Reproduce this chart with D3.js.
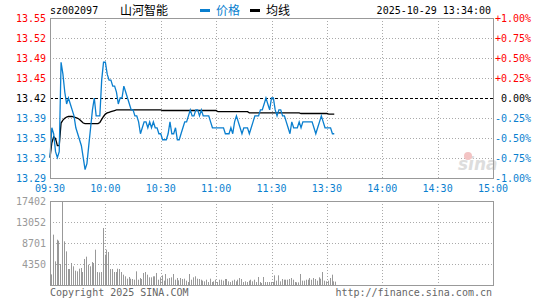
<!DOCTYPE html>
<meta charset="utf-8">
<style>
body { margin: 0; background: #fff; }
text { font-family: "DejaVu Sans Mono", monospace; font-size: 10px; }
.cn { font-family: "Noto Sans CJK SC", sans-serif; font-size: 12px; }
.frame { fill: none; stroke: #999; }
.grid { stroke: #aaa; stroke-dasharray: 1,2; }
</style>
<body>
<script src="https://cdn.jsdelivr.net/npm/d3@7"></script>
<script>

var width = 545,
    height = 300;

// chart data
var code = "sz002097",
    stockName = "山河智能",
    stamp = "2025-10-29 13:34:00",
    prevClose = 13.42;

var timeLabels = ["09:30", "10:00", "10:30", "11:00", "11:30", "13:30", "14:00", "14:30", "15:00"];
var priceLabels = ["13.55", "13.52", "13.49", "13.45", "13.42", "13.39", "13.35", "13.32", "13.29"];
var pctLabels = ["+1.00%", "+0.75%", "+0.50%", "+0.25%", " 0.00%", "-0.25%", "-0.50%", "-0.75%", "-1.00%"];
var volLabels = ["17402", "13052", "8701", "4350"];
var volMax = 17402;

// one value per minute from 09:30
var price = [
    13.32, 13.37, 13.36, 13.33, 13.32, 13.33, 13.48, 13.46, 13.43, 13.41,
    13.42, 13.41, 13.40, 13.39, 13.37, 13.36, 13.35, 13.34, 13.32, 13.30,
    13.31, 13.34, 13.37, 13.40, 13.42, 13.39, 13.39, 13.39, 13.45, 13.48,
    13.48, 13.46, 13.45, 13.45, 13.44, 13.44, 13.43, 13.41, 13.42, 13.42,
    13.44, 13.43, 13.42, 13.41, 13.40, 13.40, 13.39, 13.39, 13.38, 13.36,
    13.37, 13.38, 13.38, 13.37, 13.38, 13.37, 13.38, 13.37, 13.37, 13.36,
    13.36, 13.35, 13.35, 13.35, 13.36, 13.38, 13.36, 13.36, 13.37, 13.35,
    13.35, 13.36, 13.37, 13.38, 13.38, 13.39, 13.40, 13.39, 13.39, 13.40,
    13.40, 13.39, 13.40, 13.39, 13.39, 13.39, 13.39, 13.38, 13.37, 13.37,
    13.37, 13.37, 13.37, 13.37, 13.37, 13.36, 13.36, 13.36, 13.37, 13.36,
    13.38, 13.39, 13.38, 13.37, 13.36, 13.37, 13.37, 13.37, 13.36, 13.37,
    13.38, 13.39, 13.39, 13.39, 13.40, 13.40, 13.41, 13.42, 13.41, 13.40,
    13.42, 13.42, 13.40, 13.39, 13.40, 13.40, 13.39, 13.39, 13.38, 13.37,
    13.36, 13.38, 13.37, 13.37, 13.37, 13.38, 13.37, 13.38, 13.38, 13.38,
    13.38, 13.38, 13.38, 13.37, 13.36, 13.37, 13.38, 13.39, 13.38, 13.37,
    13.37, 13.37, 13.37, 13.36, 13.36];

var avg = [
    13.320, 13.345, 13.355, 13.352, 13.340, 13.340, 13.378, 13.383, 13.386, 13.388,
    13.389, 13.389, 13.389, 13.388, 13.387, 13.386, 13.384, 13.381, 13.378, 13.377,
    13.377, 13.377, 13.377, 13.377, 13.377, 13.377, 13.377, 13.379, 13.384, 13.389,
    13.393, 13.395, 13.396, 13.397, 13.398, 13.399, 13.400, 13.400, 13.400, 13.400,
    13.400, 13.400, 13.400, 13.400, 13.400, 13.400, 13.400, 13.400, 13.400, 13.400,
    13.400, 13.400, 13.400, 13.400, 13.400, 13.400, 13.400, 13.400, 13.400, 13.400,
    13.400, 13.399, 13.399, 13.399, 13.399, 13.399, 13.399, 13.399, 13.399, 13.399,
    13.399, 13.399, 13.399, 13.399, 13.399, 13.399, 13.399, 13.399, 13.399, 13.399,
    13.399, 13.399, 13.399, 13.399, 13.399, 13.399, 13.399, 13.399, 13.399, 13.399,
    13.399, 13.397, 13.397, 13.397, 13.397, 13.397, 13.397, 13.397, 13.397, 13.397,
    13.397, 13.397, 13.397, 13.397, 13.397, 13.397, 13.397, 13.397, 13.395, 13.395,
    13.395, 13.395, 13.395, 13.395, 13.395, 13.395, 13.395, 13.395, 13.395, 13.395,
    13.395, 13.395, 13.395, 13.395, 13.395, 13.395, 13.395, 13.395, 13.395, 13.395,
    13.395, 13.395, 13.395, 13.395, 13.395, 13.395, 13.394, 13.394, 13.394, 13.394,
    13.394, 13.394, 13.394, 13.394, 13.394, 13.394, 13.394, 13.394, 13.394, 13.394,
    13.394, 13.393, 13.393, 13.393, 13.393];

var volume = [
    2200, 10430, 4900, 9390, 9180, 4350, 17402, 9050, 6970, 3310,
    3310, 4560, 3870, 2970, 2830, 3380, 3520, 2690, 5390, 5870,
    4210, 3870, 4760, 4560, 7320, 2690, 2620, 2690, 11810, 6280,
    7320, 6840, 3310, 3310, 2690, 2690, 3380, 3310, 2690, 2140,
    1800, 1310, 1660, 1310, 1240, 1100, 2830, 1100, 1450, 1240,
    2490, 2690, 2140, 1590, 1590, 1800, 1800, 2490, 1100, 1590,
    2000, 900, 2280, 1310, 1450, 1590, 2280, 1100, 1450, 970,
    1450, 1240, 1310, 900, 620, 2280, 1100, 1590, 1800, 1310,
    1240, 1100, 900, 760, 1100, 620, 1310, 620, 760, 1100,
    620, 1100, 1100, 900, 1240, 1240, 760, 620, 900, 1100,
    760, 1100, 1450, 1240, 620, 760, 620, 900, 1100, 760,
    1100, 620, 1660, 620, 410, 1660, 620, 620, 620, 620,
    620, 2000, 900, 2000, 760, 1240, 1100, 1100, 1100, 1240,
    1450, 1100, 620, 550, 550, 2280, 900, 900, 1100, 1100,
    1450, 1100, 1450, 1240, 900, 1590, 1310, 2690, 900, 760,
    900, 1450, 2140, 760, 700];

var red = "#ff0000",
    blue = "#0a7fcf",
    gray = "#999";

var svg = d3.select("body").append("svg")
    .attr("width", width)
    .attr("height", height);

var x = d3.scaleLinear().domain([0, 240]).range([50, 493]);
var y = d3.scaleLinear().domain([prevClose * 0.99, prevClose * 1.01]).range([178, 18]);
var yv = d3.scaleLinear().domain([0, volMax]).range([285, 201]);

var priceRows = d3.range(priceLabels.length).map(function(i) { return 18 + i * 20; });
var timeCols = d3.range(timeLabels.length).map(function(i) { return i * 30; });

function labelColor(i) {
    return i < 4 ? red : (i == 4 ? "#000" : blue);
}

// ---- header
svg.append("text").attr("x", 50).attr("y", 14).text(code);
svg.append("text").attr("class", "cn").attr("x", 120).attr("y", 15).text(stockName);
svg.append("rect").attr("x", 200).attr("y", 9).attr("width", 10).attr("height", 3).attr("fill", blue);
svg.append("text").attr("class", "cn").attr("x", 216).attr("y", 15).attr("fill", blue).text("价格");
svg.append("rect").attr("x", 250).attr("y", 9).attr("width", 10).attr("height", 3).attr("fill", "#000");
svg.append("text").attr("class", "cn").attr("x", 266).attr("y", 15).text("均线");
svg.append("text").attr("x", 491).attr("y", 14).attr("text-anchor", "end").text(stamp);

// ---- price panel grid
svg.append("g").selectAll("line")
    .data(priceRows.slice(1, -1))
    .enter()
    .append("line")
    .attr("class", "grid")
    .attr("x1", 50).attr("x2", 493)
    .attr("y1", function(d) { return d + 0.5; })
    .attr("y2", function(d) { return d + 0.5; })
    .style("stroke", function(d, i) { return i == 3 ? "#000" : null; })
    .style("stroke-dasharray", function(d, i) { return i == 3 ? "3,2" : null; });

svg.append("g").selectAll("line")
    .data(timeCols.slice(1, -1))
    .enter()
    .append("line")
    .attr("class", "grid")
    .attr("x1", function(d) { return Math.round(x(d)) + 0.5; })
    .attr("x2", function(d) { return Math.round(x(d)) + 0.5; })
    .attr("y1", 18).attr("y2", 178);

// watermark
svg.append("text")
    .attr("x", 458).attr("y", 170)
    .style("font-family", "DejaVu Sans")
    .style("font-size", "17px")
    .style("font-weight", "bold")
    .style("font-style", "italic")
    .attr("fill", "#ddd")
    .text("sina");
svg.append("circle").attr("cx", 468).attr("cy", 156).attr("r", 4).attr("fill", "#f3c4c4");

// ---- lines
var line = d3.line()
    .x(function(d, i) { return x(i); })
    .y(function(d) { return y(d); });

svg.append("path")
    .datum(avg)
    .attr("fill", "none")
    .attr("stroke", "#000")
    .attr("stroke-width", 1.3)
    .attr("d", line);

svg.append("path")
    .datum(price)
    .attr("fill", "none")
    .attr("stroke", blue)
    .attr("stroke-width", 1.3)
    .attr("d", line);

svg.append("rect").attr("class", "frame").attr("x", 50.5).attr("y", 18.5).attr("width", 443).attr("height", 160);

// ---- axis labels
svg.append("g").selectAll("text")
    .data(priceLabels)
    .enter()
    .append("text")
    .attr("x", 46)
    .attr("y", function(d, i) { return priceRows[i] + 4; })
    .attr("text-anchor", "end")
    .attr("fill", function(d, i) { return labelColor(i); })
    .text(function(d) { return d; });

svg.append("g").selectAll("text")
    .data(pctLabels)
    .enter()
    .append("text")
    .attr("x", 495)
    .attr("y", function(d, i) { return priceRows[i] + 4; })
    .attr("fill", function(d, i) { return labelColor(i); })
    .style("white-space", "pre")
    .text(function(d) { return d; });

svg.append("g").selectAll("text")
    .data(timeLabels)
    .enter()
    .append("text")
    .attr("x", function(d, i) { return x(timeCols[i]); })
    .attr("y", 192)
    .attr("text-anchor", "middle")
    .attr("fill", blue)
    .text(function(d) { return d; });

// ---- volume panel
svg.append("g").selectAll("line")
    .data([1, 2, 3])
    .enter()
    .append("line")
    .attr("class", "grid")
    .attr("x1", 50).attr("x2", 493)
    .attr("y1", function(d) { return Math.round(yv(volMax * d / 4)) + 0.5; })
    .attr("y2", function(d) { return Math.round(yv(volMax * d / 4)) + 0.5; });

svg.append("g").selectAll("line")
    .data(timeCols.slice(1, -1))
    .enter()
    .append("line")
    .attr("class", "grid")
    .attr("x1", function(d) { return Math.round(x(d)) + 0.5; })
    .attr("x2", function(d) { return Math.round(x(d)) + 0.5; })
    .attr("y1", 201).attr("y2", 285);

svg.append("g").selectAll("rect")
    .data(volume)
    .enter()
    .append("rect")
    .attr("x", function(d, i) { return Math.round(x(i)) + 1; })
    .attr("width", 1)
    .attr("y", function(d) { return yv(d); })
    .attr("height", function(d) { return 285 - yv(d); })
    .attr("fill", gray);

svg.append("rect").attr("class", "frame").attr("x", 50.5).attr("y", 201.5).attr("width", 443).attr("height", 84);

svg.append("g").selectAll("text")
    .data(volLabels)
    .enter()
    .append("text")
    .attr("x", 46)
    .attr("y", function(d) { return yv(+d) + 4; })
    .attr("text-anchor", "end")
    .attr("fill", gray)
    .text(function(d) { return d; });

// ---- footer
svg.append("text").attr("x", 50).attr("y", 296).attr("fill", "#666").text("Copyright 2025 SINA.COM");
svg.append("text").attr("x", 492).attr("y", 296).attr("text-anchor", "end").attr("fill", "#666").text("http://finance.sina.com.cn");

</script>
